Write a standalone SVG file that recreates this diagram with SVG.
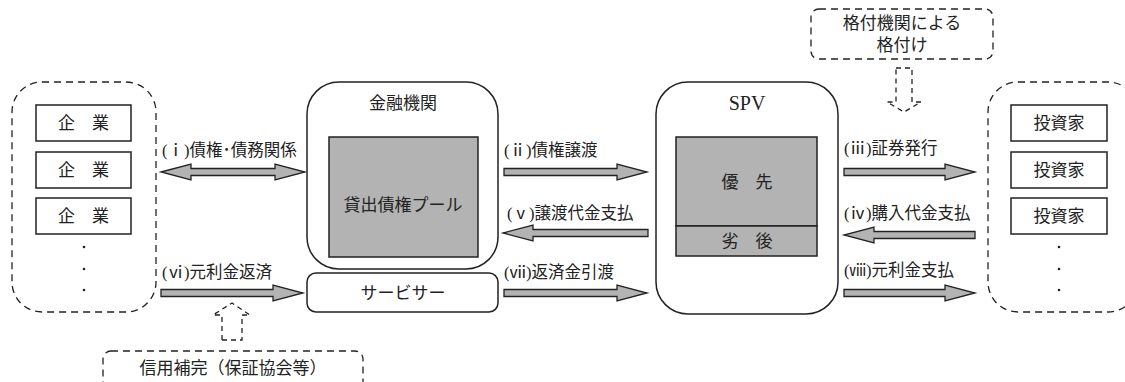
<svg xmlns="http://www.w3.org/2000/svg" width="1125" height="382" viewBox="0 0 1125 382">
<style>
text{font-family:"Liberation Serif","Noto Sans CJK JP",serif;font-size:17px;fill:#222;}
.c{text-anchor:middle;}
.lbl{font-size:16.5px;}
.box{fill:#fff;stroke:#222;stroke-width:1.5;}
.gray{fill:#b3b3b3;stroke:#222;stroke-width:1.5;}
.dash{fill:none;stroke:#222;stroke-width:1.3;stroke-dasharray:7 5;}
.arr{fill:#b3b3b3;stroke:#222;stroke-width:1.3;stroke-linejoin:miter;}
.dot{fill:#222;}
</style>
<rect width="1125" height="382" fill="#fff"/>

<g id="companies">
<rect class="dash" x="12" y="82" width="144" height="230" rx="30"/>
<rect class="box" x="36" y="105" width="95" height="36"/>
<text class="c" x="83.5" y="129">企　業</text>
<rect class="box" x="36" y="152" width="95" height="36"/>
<text class="c" x="83.5" y="176">企　業</text>
<rect class="box" x="36" y="198" width="95" height="36"/>
<text class="c" x="83.5" y="222">企　業</text>
<circle class="dot" cx="84" cy="247" r="1.3"/>
<circle class="dot" cx="84" cy="269" r="1.3"/>
<circle class="dot" cx="84" cy="290" r="1.3"/>
</g>

<g id="bank">
<rect class="box" x="307" y="82" width="191" height="187" rx="32"/>
<text class="c" x="403" y="109">金融機関</text>
<rect class="gray" x="329" y="137" width="149" height="120"/>
<text class="c" x="403" y="211">貸出債権プール</text>
</g>

<g id="servicer">
<rect class="box" x="307" y="273" width="191" height="39" rx="9"/>
<text class="c" x="403" y="299">サービサー</text>
</g>

<g id="spv">
<rect class="box" x="656" y="82" width="182" height="232" rx="32"/>
<text class="c" x="747" y="110" style="font-size:20px">SPV</text>
<rect class="gray" x="676" y="137" width="141" height="89"/>
<rect class="gray" x="676" y="226" width="141" height="30"/>
<text class="c" x="747" y="188">優　先</text>
<text class="c" x="747" y="247">劣　後</text>
</g>

<g id="investors">
<rect class="dash" x="988" y="82" width="150" height="230" rx="30"/>
<rect class="box" x="1011" y="105" width="96" height="36"/>
<text class="c" x="1059" y="129">投資家</text>
<rect class="box" x="1011" y="152" width="96" height="36"/>
<text class="c" x="1059" y="176">投資家</text>
<rect class="box" x="1011" y="198" width="96" height="36"/>
<text class="c" x="1059" y="222">投資家</text>
<circle class="dot" cx="1059" cy="247" r="1.3"/>
<circle class="dot" cx="1059" cy="269" r="1.3"/>
<circle class="dot" cx="1059" cy="290" r="1.3"/>
</g>

<g id="rating">
<rect class="dash" x="811" y="9" width="182" height="50" rx="8"/>
<text class="c" x="902" y="29">格付機関による</text>
<text class="c" x="902" y="51">格付け</text>
</g>

<g id="credit">
<rect class="dash" x="103" y="351" width="260" height="50" rx="8"/>
<text class="c" x="233" y="374">信用補完（保証協会等）</text>
</g>

<g id="connectors">
<!-- (i) double -->
<polygon class="arr" points="161,172 191,164 191,168.5 275,168.5 275,164 305,172 275,180 275,175.5 191,175.5 191,180"/>
<text class="lbl" x="162" y="156">(ⅰ)債権･債務関係</text>
<!-- (ii) -->
<polygon class="arr" points="504,168.5 617,168.5 617,164 647,172 617,180 617,175.5 504,175.5"/>
<text class="lbl" x="504" y="156">(ⅱ)債権譲渡</text>
<!-- (v) -->
<polygon class="arr" points="648,229.5 533,229.5 533,225 503,233 533,241 533,236.5 648,236.5"/>
<text class="lbl" x="507" y="219">(ⅴ)譲渡代金支払</text>
<!-- (vii) -->
<polygon class="arr" points="504,289.5 617,289.5 617,285 647,293 617,301 617,296.5 504,296.5"/>
<text class="lbl" x="504" y="278">(ⅶ)返済金引渡</text>
<!-- (vi) -->
<polygon class="arr" points="161,289.5 273,289.5 273,285 303,293 273,301 273,296.5 161,296.5"/>
<text class="lbl" x="162" y="278">(ⅵ)元利金返済</text>
<!-- (iii) -->
<polygon class="arr" points="844,168.5 945,168.5 945,164 975,172 945,180 945,175.5 844,175.5"/>
<text class="lbl" x="844" y="154">(ⅲ)証券発行</text>
<!-- (iv) -->
<polygon class="arr" points="975,231.5 874,231.5 874,227 844,235 874,243 874,238.5 975,238.5"/>
<text class="lbl" x="844" y="219">(ⅳ)購入代金支払</text>
<!-- (viii) -->
<polygon class="arr" points="844,289.5 945,289.5 945,285 975,293 945,301 945,296.5 844,296.5"/>
<text class="lbl" x="844" y="276">(ⅷ)元利金支払</text>
<!-- dashed down arrow from rating -->
<polygon class="dash" style="stroke-dasharray:5 4" points="896,68 912,68 912,102 921,102 904,112 887,102 896,102"/>
<!-- dashed up arrow from credit enhancement -->
<polygon class="dash" style="stroke-dasharray:5 4" points="222,340 242,340 242,315 250,315 232,303 213,315 222,315"/>
</g>
</svg>
